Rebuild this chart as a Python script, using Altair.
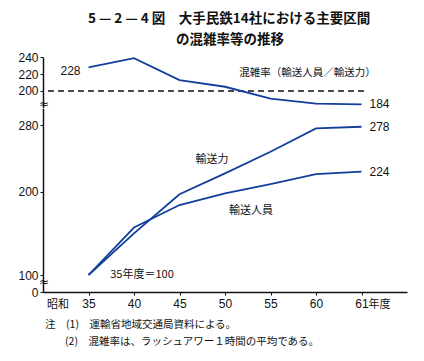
import altair as alt
import pandas as pd

# ---- data ----
years = [35, 40, 45, 50, 55, 60, 61]
congestion = [228, 239, 213, 205, 191, 185, 184]   # 混雑率
capacity = [100, 150, 197, 222, 248, 276, 278]     # 輸送力 (35年度=100)
passengers = [100, 157, 184, 198, 209, 221, 224]   # 輸送人員 (35年度=100)

title_lines = ["5 — 2 — 4 図　大手民鉄14社における主要区間", "の混雑率等の推移"]
notes = ["注　(1)　運輸省地域交通局資料による。", "(2)　混雑率は、ラッシュアワー１時間の平均である。"]

FONT = "Noto Sans CJK JP"
NUMFONT = "Liberation Sans"
BLUE = "#123f9c"
INK = "#111111"

W, H = 364, 242

X = alt.X("year:O", scale=alt.Scale(type="point", domain=years, padding=1),
          axis=alt.Axis(title=None, labelAngle=0, labelFont=NUMFONT, labelFontSize=12,
                        labelColor=INK, domainColor=INK, domainWidth=1.5, tickColor=INK,
                        tickSize=3, labelPadding=3, grid=False))

upper_scale = alt.Scale(domain=[180, 240], range=[57.8, 7.3], nice=False, zero=False)
lower_scale = alt.Scale(domain=[0, 100, 300], range=[242, 225, 58.4], nice=False, zero=False)

def yaxis(vals):
    return alt.Axis(values=vals, orient="left", title=None, grid=False, labelFont=NUMFONT,
                    labelFontSize=12, labelColor=INK, domainColor=INK, domainWidth=1.5,
                    tickColor=INK, tickSize=3, labelPadding=2)

Y_UP = alt.Y("v:Q", scale=upper_scale, axis=yaxis([200, 220, 240]))
Y_LO = alt.Y("v:Q", scale=lower_scale, axis=yaxis([0, 100, 200, 280]))

# ---- upper panel: congestion ----
up_df = pd.DataFrame({"year": years, "v": congestion})
up_line = alt.Chart(up_df).mark_line(color=BLUE, strokeWidth=1.8).encode(x=X, y=Y_UP)
rule = alt.Chart(pd.DataFrame({"year": [35], "v": [200]})).mark_rule(
    color=INK, strokeDash=[6, 4], strokeWidth=1.6
).encode(y=Y_UP, x=alt.value(5), x2=alt.value(323))
up_first = alt.Chart(up_df.iloc[[0]]).mark_text(
    font=NUMFONT, fontSize=12, color=INK, align="right", dx=-8, dy=4
).encode(x=X, y=Y_UP, text="v:Q")
up_last = alt.Chart(up_df.iloc[[-1]]).mark_text(
    font=NUMFONT, fontSize=12, color=INK, align="left", dx=8
).encode(x=X, y=Y_UP, text="v:Q")
up_note = alt.Chart(pd.DataFrame({"year": [55], "v": [221.4], "t": ["混雑率（輸送人員／輸送力）"]})).mark_text(
    font=FONT, fontSize=10.5, color=INK, dx=37
).encode(x=X, y=Y_UP, text="t:N")
upper = alt.layer(rule, up_line, up_first, up_last, up_note)

# ---- lower panel: indices ----
lo_df = pd.DataFrame({
    "year": years * 2,
    "series": ["輸送力"] * len(years) + ["輸送人員"] * len(years),
    "v": capacity + passengers,
})
lo_lines = alt.Chart(lo_df).mark_line(color=BLUE, strokeWidth=1.8).encode(
    x=X, y=Y_LO, detail="series:N")
lo_last = alt.Chart(pd.DataFrame({"year": [61, 61], "v": [capacity[-1], passengers[-1]]})).mark_text(
    font=NUMFONT, fontSize=12, color=INK, align="left", dx=8
).encode(x=X, y=Y_LO, text="v:Q")
lo_notes = alt.Chart(pd.DataFrame({
    "year": [50, 50, 40],
    "v": [238, 177, 99],
    "t": ["輸送力", "輸送人員", "35年度＝100"],
    "dx": [-13, 26, 8],
})).mark_text(font=FONT, fontSize=11, color=INK).encode(
    x=X, y=Y_LO, text="t:N", xOffset=alt.XOffset("dx:Q", scale=None))
lower = alt.layer(lo_lines, lo_last, lo_notes)

# ---- free annotations (title, notes, axis extras) ----
def txt(t, x, y, size, weight="normal", align="left", font=FONT):
    return alt.Chart(pd.DataFrame({"t": [t]})).mark_text(
        font=font, fontSize=size, fontWeight=weight, color=INK, align=align, baseline="middle"
    ).encode(text="t:N", x=alt.value(x), y=alt.value(y))

extras = alt.layer(
    txt(title_lines[0], 45, -31, 13.5, "bold"),
    txt(title_lines[1], 133, -10, 13.5, "bold"),
    txt("昭和", 15, 13 + H, 11, align="center"),
    txt(notes[0], 2, 275, 10.5),
    txt(notes[1], 22, 292, 10.5),
    txt("≈", 1, 54, 12, align="center", font="DejaVu Sans"),
    txt("≈", 1, 232, 12, align="center", font="DejaVu Sans"),
)
nendo = alt.Chart(pd.DataFrame({"year": [61], "t": ["年度"]})).mark_text(
    font=FONT, fontSize=11, color=INK, align="left", baseline="middle", dx=7
).encode(x=X, y=alt.value(13 + H), text="t:N")

chart = alt.layer(upper, lower, extras, nendo).resolve_scale(y="independent").properties(
    width=W, height=H,
    autosize=alt.AutoSizeParams(type="none"),
    padding={"left": 35, "top": 42, "right": 9, "bottom": 58},
    background="white",
).configure_view(stroke=None)

chart.save("out.html", embed_options={"renderer": "svg", "actions": False})
